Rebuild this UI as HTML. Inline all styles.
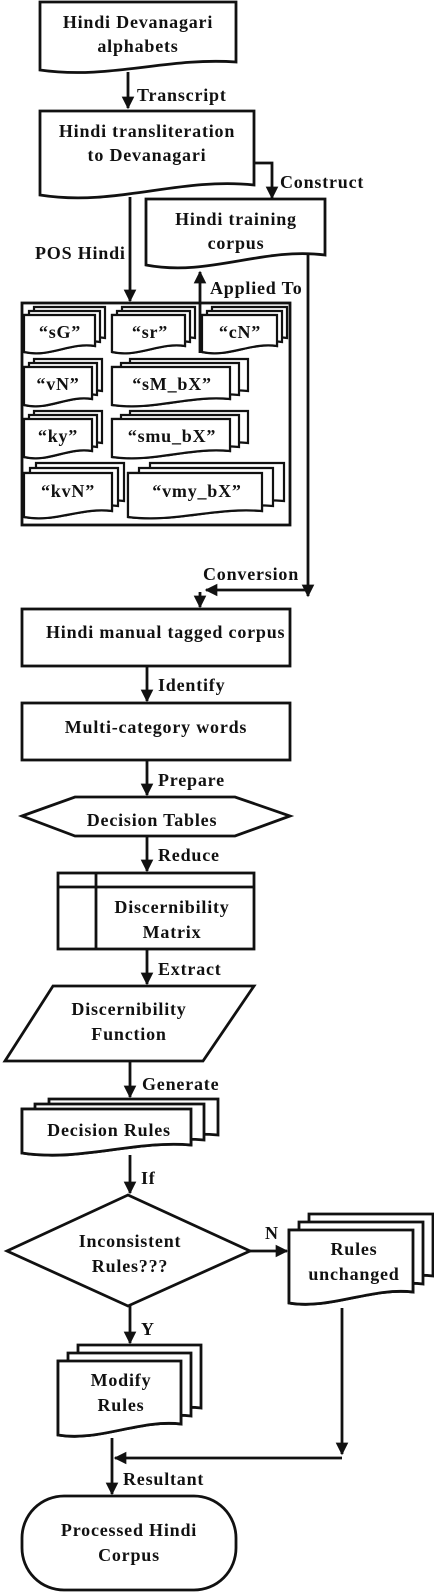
<!DOCTYPE html>
<html><head><meta charset="utf-8"><style>
html,body{margin:0;padding:0;background:#fff}
svg{display:block}
text{font-family:"Liberation Serif",serif;font-weight:bold;font-size:18px;letter-spacing:0.8px;fill:#111}
.c{text-anchor:middle}
</style></head><body>
<svg width="434" height="1592" viewBox="0 0 434 1592" xmlns="http://www.w3.org/2000/svg">
<defs>
<marker id="ah" viewBox="0 0 10 10" refX="9" refY="5" markerWidth="4.5" markerHeight="4.5" orient="auto"><path d="M0 0L10 5L0 10Z" fill="#111"/></marker>
</defs>
<g fill="#fff" stroke="#111" stroke-width="2.8">
<path d="M40 2H236V62C167 57 109 80 40 70Z"/>
<path d="M40 111H254V185C179 177 115 207 40 195Z"/>
<path d="M146 199H325V255C262 247 209 277 146 265Z"/>
<rect x="22" y="303" width="268" height="222"/>
</g>
<g fill="#fff" stroke="#111" stroke-width="2.2">
<g id="sG"><path d="M24 315H95V346C70 342 50 358 24 352Z"/></g>
<use href="#sG" transform="translate(10,-8)"/><use href="#sG" transform="translate(5,-4)"/><path d="M24 315H95V346C70 342 50 358 24 352Z"/>
<g id="sr"><path d="M112 315H185V346C160 342 138 358 112 352Z"/></g>
<use href="#sr" transform="translate(10,-8)"/><use href="#sr" transform="translate(5,-4)"/><path d="M112 315H185V346C160 342 138 358 112 352Z"/>
<g id="cN"><path d="M202 315H277V346C251 342 228 358 202 352Z"/></g>
<use href="#cN" transform="translate(10,-8)"/><use href="#cN" transform="translate(5,-4)"/><path d="M202 315H277V346C251 342 228 358 202 352Z"/>
<g id="vN"><path d="M24 367H92V399C68 395 48 411 24 405Z"/></g>
<use href="#vN" transform="translate(10,-8)"/><use href="#vN" transform="translate(5,-4)"/><path d="M24 367H92V399C68 395 48 411 24 405Z"/>
<g id="sM"><path d="M112 367H230V399C189 395 153 411 112 405Z"/></g>
<use href="#sM" transform="translate(18,-8)"/><use href="#sM" transform="translate(9,-4)"/><path d="M112 367H230V399C189 395 153 411 112 405Z"/>
<g id="ky"><path d="M24 419H92V451C68 447 48 463 24 457Z"/></g>
<use href="#ky" transform="translate(10,-8)"/><use href="#ky" transform="translate(5,-4)"/><path d="M24 419H92V451C68 447 48 463 24 457Z"/>
<g id="smu"><path d="M112 419H230V451C189 447 153 463 112 457Z"/></g>
<use href="#smu" transform="translate(18,-8)"/><use href="#smu" transform="translate(9,-4)"/><path d="M112 419H230V451C189 447 153 463 112 457Z"/>
<g id="kvN"><path d="M24 473H112V511C81 507 55 523 24 517Z"/></g>
<use href="#kvN" transform="translate(12,-10)"/><use href="#kvN" transform="translate(6,-5)"/><path d="M24 473H112V511C81 507 55 523 24 517Z"/>
<g id="vmy"><path d="M128 473H262V511C215 507 175 523 128 517Z"/></g>
<use href="#vmy" transform="translate(22,-10)"/><use href="#vmy" transform="translate(11,-5)"/><path d="M128 473H262V511C215 507 175 523 128 517Z"/>
</g>
<g fill="#fff" stroke="#111" stroke-width="2.8">
<rect x="22" y="609" width="268" height="57"/>
<rect x="22" y="703" width="268" height="57"/>
<path d="M22 816L75 797H235L290 816L235 836H75Z"/>
<rect x="58" y="873" width="196" height="76"/>
<path d="M58 887H254M96 873V949" fill="none"/>
<path d="M53 986H254L203 1061H5Z"/>
<g id="dr"><path d="M22 1109H191V1145C135 1140 80 1162 22 1153Z"/></g>
<use href="#dr" transform="translate(27,-10)"/><use href="#dr" transform="translate(13,-5)"/><path d="M22 1109H191V1145C135 1140 80 1162 22 1153Z"/>
<path d="M128 1195L250 1251L128 1306L7 1251Z"/>
<g id="ru"><path d="M289 1230H413V1292C372 1287 330 1310 289 1303Z"/></g>
<use href="#ru" transform="translate(20,-16)"/><use href="#ru" transform="translate(10,-8)"/><path d="M289 1230H413V1292C372 1287 330 1310 289 1303Z"/>
<g id="mr"><path d="M58 1361H181V1424C140 1419 99 1442 58 1435Z"/></g>
<use href="#mr" transform="translate(20,-16)"/><use href="#mr" transform="translate(10,-8)"/><path d="M58 1361H181V1424C140 1419 99 1442 58 1435Z"/>
<rect x="22" y="1496" width="214" height="94" rx="42" ry="42"/>
</g>
<g fill="none" stroke="#111" stroke-width="2.8" marker-end="url(#ah)">
<path d="M128 72V108"/>
<path d="M254 163H272V198"/>
<path d="M130 197V301"/>
<path d="M200 353V272"/>
<path d="M308 255V596"/>
<path d="M308 590H206"/>
<path d="M200 592V607"/>
<path d="M147 666V701"/>
<path d="M147 760V795"/>
<path d="M147 836V871"/>
<path d="M147 949V984"/>
<path d="M130 1061V1097"/>
<path d="M130 1155V1193"/>
<path d="M250 1251H287"/>
<path d="M130 1306V1343"/>
<path d="M342 1308V1454"/>
<path d="M342 1458H115"/>
<path d="M112 1438V1494"/>
</g>
<text class="c" x="138" y="28">Hindi Devanagari</text>
<text class="c" x="138" y="52">alphabets</text>
<text x="137" y="101">Transcript</text>
<text class="c" x="147" y="137">Hindi transliteration</text>
<text class="c" x="147" y="161">to Devanagari</text>
<text x="280" y="188">Construct</text>
<text class="c" x="236" y="225">Hindi training</text>
<text class="c" x="236" y="249">corpus</text>
<text x="35" y="259">POS Hindi</text>
<text x="210" y="294">Applied To</text>
<text class="c" x="60" y="338">“sG”</text>
<text class="c" x="150" y="338">“sr”</text>
<text class="c" x="240" y="338">“cN”</text>
<text class="c" x="58" y="390">“vN”</text>
<text class="c" x="172" y="390">“sM_bX”</text>
<text class="c" x="58" y="442">“ky”</text>
<text class="c" x="172" y="442">“smu_bX”</text>
<text class="c" x="68" y="497">“kvN”</text>
<text class="c" x="197" y="497">“vmy_bX”</text>
<text x="203" y="580">Conversion</text>
<text x="46" y="638">Hindi manual tagged corpus</text>
<text class="c" x="156" y="733">Multi-category words</text>
<text x="158" y="691">Identify</text>
<text x="158" y="786">Prepare</text>
<text class="c" x="152" y="826">Decision Tables</text>
<text x="158" y="861">Reduce</text>
<text class="c" x="172" y="913">Discernibility</text>
<text class="c" x="172" y="938">Matrix</text>
<text x="158" y="975">Extract</text>
<text class="c" x="129" y="1015">Discernibility</text>
<text class="c" x="129" y="1040">Function</text>
<text x="142" y="1090">Generate</text>
<text class="c" x="109" y="1136">Decision Rules</text>
<text x="141" y="1184">If</text>
<text class="c" x="130" y="1247">Inconsistent</text>
<text class="c" x="130" y="1272">Rules???</text>
<text x="265" y="1239">N</text>
<text class="c" x="354" y="1255">Rules</text>
<text class="c" x="354" y="1280">unchanged</text>
<text x="141" y="1335">Y</text>
<text class="c" x="121" y="1386">Modify</text>
<text class="c" x="121" y="1411">Rules</text>
<text x="123" y="1485">Resultant</text>
<text class="c" x="129" y="1536">Processed Hindi</text>
<text class="c" x="129" y="1561">Corpus</text>
</svg>
</body></html>
